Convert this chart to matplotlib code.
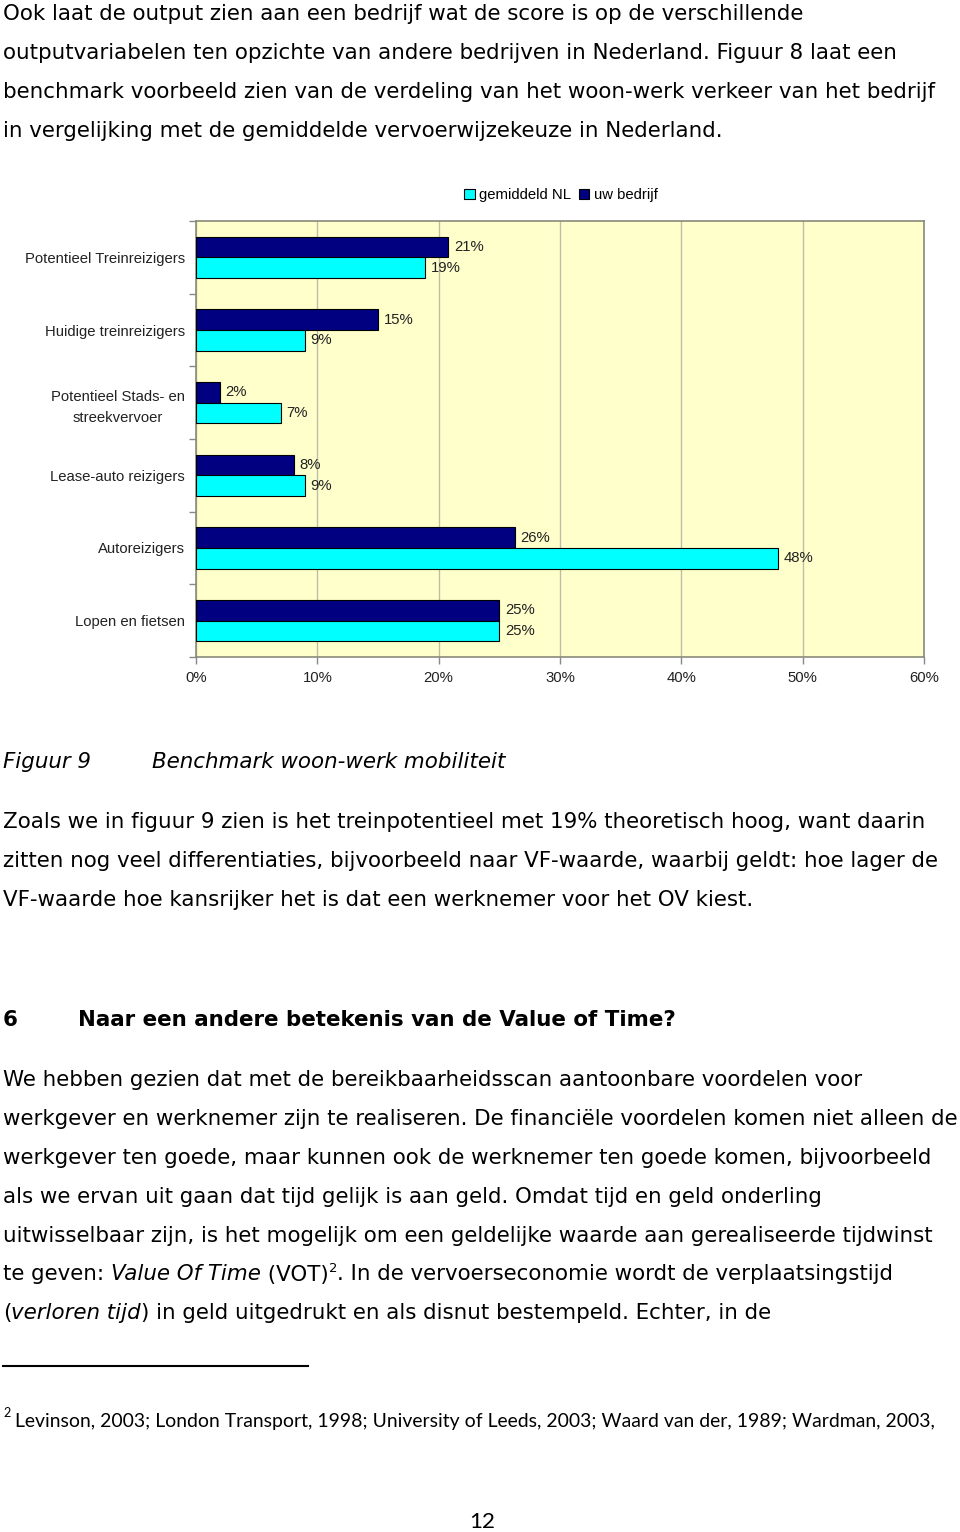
import numpy as np
import matplotlib.pyplot as plt

# gegevens uit de figuur (procenten)
categorieen = ['Potentieel Treinreizigers', 'Huidige treinreizigers',
               'Potentieel Stads- en\nstreekvervoer', 'Lease-auto reizigers',
               'Autoreizigers', 'Lopen en fietsen']
uw_bedrijf = [20.8, 15.0, 2.0, 8.1, 26.3, 25.0]
gemiddeld_nl = [18.9, 9.0, 7.0, 9.0, 48.0, 25.0]
x_ticks = [0, 10, 20, 30, 40, 50, 60]

W, H = 960, 1532
fig = plt.figure(figsize=(W / 100, H / 100), dpi=100)
fig.patch.set_facecolor('white')
renderer = fig.canvas.get_renderer()

BODY = 'DejaVu Sans'
CHART = 'Liberation Sans'
CS = 10.7  # lettergrootte grafiek


def fx(x):
    return x / W


def fy(y):
    return 1 - y / H


def breedte(s, **kw):
    # breedte in pixels, ook met spaties aan het eind
    t1 = fig.text(0, 0, s + '.', **kw)
    t2 = fig.text(0, 0, '.', **kw)
    w = t1.get_window_extent(renderer).width - t2.get_window_extent(renderer).width
    t1.remove()
    t2.remove()
    return w


def pas_grootte(s, doel, **kw):
    w = breedte(s, fontsize=10, **kw)
    return 10 * doel / w


def regel(x, y, delen, size, family=BODY):
    # delen: lijst van (tekst, stijl) ; stijl in '', 'i', 'b', 'sup'
    for tekst, stijl in delen:
        kw = dict(family=family, fontsize=size, color='black')
        yy = y
        if stijl == 'i':
            kw['style'] = 'italic'
        elif stijl == 'b':
            kw['weight'] = 'bold'
        elif stijl == 'sup':
            kw['fontsize'] = size * 0.62
            yy = y - size * 0.55
        fig.text(fx(x), fy(yy), tekst, va='baseline', ha='left', **kw)
        x += breedte(tekst, **kw)


body_size = 1.005 * pas_grootte('werkgever en werknemer zijn te realiseren. De financiële voordelen komen niet alleen de',
                                955, family=BODY)

alinea1 = ['Ook laat de output zien aan een bedrijf wat de score is op de verschillende',
           'outputvariabelen ten opzichte van andere bedrijven in Nederland. Figuur 8 laat een',
           'benchmark voorbeeld zien van de verdeling van het woon-werk verkeer van het bedrijf',
           'in vergelijking met de gemiddelde vervoerwijzekeuze in Nederland.']
for i, s in enumerate(alinea1):
    regel(3, 20 + 39 * i, [(s, '')], body_size)

# ---- grafiek ----
ax = fig.add_axes([fx(196), fy(657), 728 / W, 436 / H])
ax.set_facecolor('#FFFFCC')
pos = np.arange(len(categorieen))
h = 0.285
ax.barh(pos - h / 2, uw_bedrijf, height=h, color='#000080', edgecolor='black',
        linewidth=0.8, label='uw bedrijf', zorder=3)
ax.barh(pos + h / 2, gemiddeld_nl, height=h, color='#00FFFF', edgecolor='black',
        linewidth=0.8, label='gemiddeld NL', zorder=3)
for p, a, b in zip(pos, uw_bedrijf, gemiddeld_nl):
    ax.text(a + 0.45, p - h / 2, f'{a:.0f}%', va='center', ha='left',
            family=CHART, fontsize=CS, color='#222222')
    ax.text(b + 0.45, p + h / 2, f'{b:.0f}%', va='center', ha='left',
            family=CHART, fontsize=CS, color='#222222')

ax.set_xlim(0, 60)
ax.set_ylim(len(categorieen) - 0.5, -0.5)
ax.set_xticks(x_ticks)
ax.set_xticklabels([f'{v}%' for v in x_ticks], family=CHART, fontsize=CS, color='#222222')
ax.set_yticks(pos)
ax.set_yticklabels(categorieen, family=CHART, fontsize=CS, color='#222222',
                   linespacing=1.6)
for lab in ax.get_yticklabels():
    lab.set_multialignment('center')
ax.set_yticks(np.arange(-0.5, len(categorieen)), minor=True)
ax.tick_params(axis='y', which='major', length=0, pad=8)
ax.tick_params(axis='y', which='minor', length=5, color='#888888', width=1)
ax.tick_params(axis='x', length=5, color='#888888', width=1, pad=5)
ax.xaxis.grid(True, color='#BDBDA8', linewidth=1, zorder=0)
ax.set_axisbelow(True)
for sp in ax.spines.values():
    sp.set_color('#8A8A7A')
    sp.set_linewidth(1.2)

handles, labels = ax.get_legend_handles_labels()
fig.legend(handles[::-1], labels[::-1], loc='center', bbox_to_anchor=(fx(561), fy(195)),
           ncol=2, frameon=False, handlelength=0.7, handleheight=0.7,
           handletextpad=0.3, columnspacing=0.5, prop={'family': CHART, 'size': CS})

# ---- tekst onder grafiek ----
regel(3, 768, [('Figuur 9', 'i')], body_size)
regel(152, 768, [('Benchmark woon-werk mobiliteit', 'i')], body_size)

alinea2 = ['Zoals we in figuur 9 zien is het treinpotentieel met 19% theoretisch hoog, want daarin',
           'zitten nog veel differentiaties, bijvoorbeeld naar VF-waarde, waarbij geldt: hoe lager de',
           'VF-waarde hoe kansrijker het is dat een werknemer voor het OV kiest.']
for i, s in enumerate(alinea2):
    regel(3, 828 + 39 * i, [(s, '')], body_size)

regel(3, 1026, [('6', 'b')], body_size)
regel(78, 1026, [('Naar een andere betekenis van de Value of Time?', 'b')], body_size)

alinea3 = [[('We hebben gezien dat met de bereikbaarheidsscan aantoonbare voordelen voor', '')],
           [('werkgever en werknemer zijn te realiseren. De financiële voordelen komen niet alleen de', '')],
           [('werkgever ten goede, maar kunnen ook de werknemer ten goede komen, bijvoorbeeld', '')],
           [('als we ervan uit gaan dat tijd gelijk is aan geld. Omdat tijd en geld onderling', '')],
           [('uitwisselbaar zijn, is het mogelijk om een geldelijke waarde aan gerealiseerde tijdwinst', '')],
           [('te geven: ', ''), ('Value Of Time', 'i'), (' (VOT)', ''), ('2', 'sup'),
            ('. In de vervoerseconomie wordt de verplaatsingstijd', '')],
           [('(', ''), ('verloren tijd', 'i'), (') in geld uitgedrukt en als disnut bestempeld. Echter, in de', '')]]
for i, delen in enumerate(alinea3):
    regel(3, 1086 + 38.9 * i, delen, body_size)

# voetnoot
fig.add_artist(plt.Line2D([fx(3), fx(308)], [fy(1366), fy(1366)], color='black', linewidth=1.5))
NOOT = 'Lato'
noot_tekst = 'Levinson, 2003; London Transport, 1998; University of Leeds, 2003; Waard van der, 1989; Wardman, 2003,'
noot_size = pas_grootte(noot_tekst, 920, family=NOOT)
fig.text(fx(3), fy(1417), '2', family=NOOT, fontsize=noot_size * 0.65, va='baseline')
fig.text(fx(15), fy(1427), noot_tekst, family=NOOT, fontsize=noot_size, va='baseline')
fig.text(fx(482), fy(1528), '12', family=NOOT, fontsize=noot_size * 1.15, va='baseline', ha='center')

fig.savefig('out.png', dpi=100, facecolor='white')
